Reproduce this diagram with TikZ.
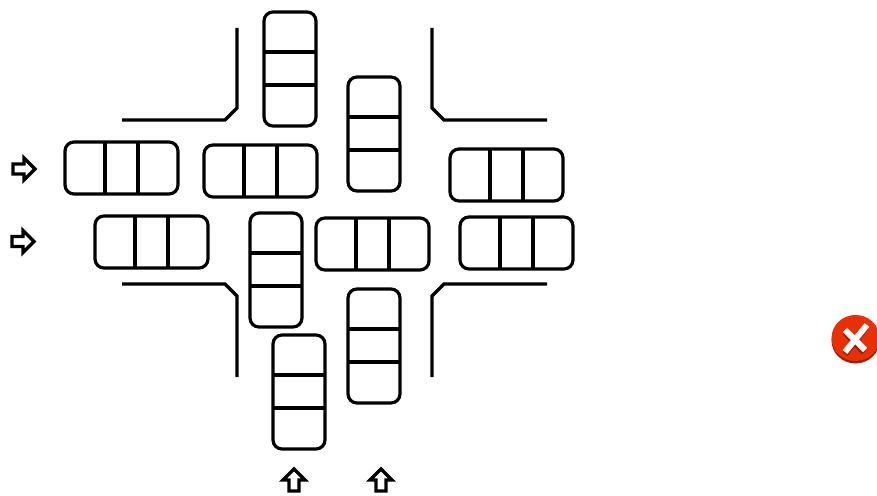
\documentclass[tikz,border=0pt]{standalone}
\usepackage{tikz}

\definecolor{iconred}{RGB}{232,48,4}
\definecolor{icondark}{RGB}{160,30,5}

\tikzset{
    carbox/.style={draw=black, line width=3.2pt, rounded corners=9pt},
    cardiv/.style={draw=black, line width=3.2pt},
    roadline/.style={draw=black, line width=3.2pt},
    lanearrow/.style={draw=black, line width=3.4pt, miter limit=3}
}

\begin{document}
\begin{tikzpicture}[x=1pt,y=-1pt]
    \useasboundingbox (0,0) rectangle (877,495);
    \clip (0,0) rectangle (877,495);

    \foreach \x/\y in {65/142, 204/145, 450/149, 95/216, 316/218, 460/217} {
        \draw[carbox] (\x,\y) rectangle ++(113,52);
        \draw[cardiv] (\x+40,\y) -- ++(0,52);
        \draw[cardiv] (\x+73,\y) -- ++(0,52);
    }

    \foreach \x/\y in {264/12, 348/77, 250/213, 348/289, 273/335} {
        \draw[carbox] (\x,\y) rectangle ++(52,114);
        \draw[cardiv] (\x,\y+40) -- ++(52,0);
        \draw[cardiv] (\x,\y+73) -- ++(52,0);
    }

    \draw[roadline] (122,120) -- (225,120) -- (237,108) -- (237,28);
    \draw[roadline] (547,120) -- (444,120) -- (432,108) -- (432,28);
    \draw[roadline] (122,284) -- (225,284) -- (237,296) -- (237,377);
    \draw[roadline] (547,284) -- (444,284) -- (432,296) -- (432,377);

    \foreach \x/\y in {13/169, 12/241.5} {
        \draw[lanearrow] (\x,\y-5) -- ++(11,0) -- ++(0,-6) -- ++(11,11) -- ++(-11,11) -- ++(0,-6) -- ++(-11,0) -- cycle;
    }

    \foreach \x in {294, 381} {
        \draw[lanearrow] (\x-5,491) -- ++(0,-11) -- ++(-6,0) -- ++(11,-11) -- ++(11,11) -- ++(-6,0) -- ++(0,11) -- cycle;
    }

    \fill[icondark] (855.5,340.5) ellipse (24 and 23);
    \fill[iconred] (855.5,338) ellipse (24 and 23);
    \draw[icondark, line width=6pt] (845,332.5) -- (864,352.5);
    \draw[icondark, line width=6pt] (866,327.5) -- (845,354);
    \draw[white, line width=6pt] (845,330) -- (865,350);
    \draw[white, line width=6pt] (867,325) -- (845,352);
\end{tikzpicture}
\end{document}
